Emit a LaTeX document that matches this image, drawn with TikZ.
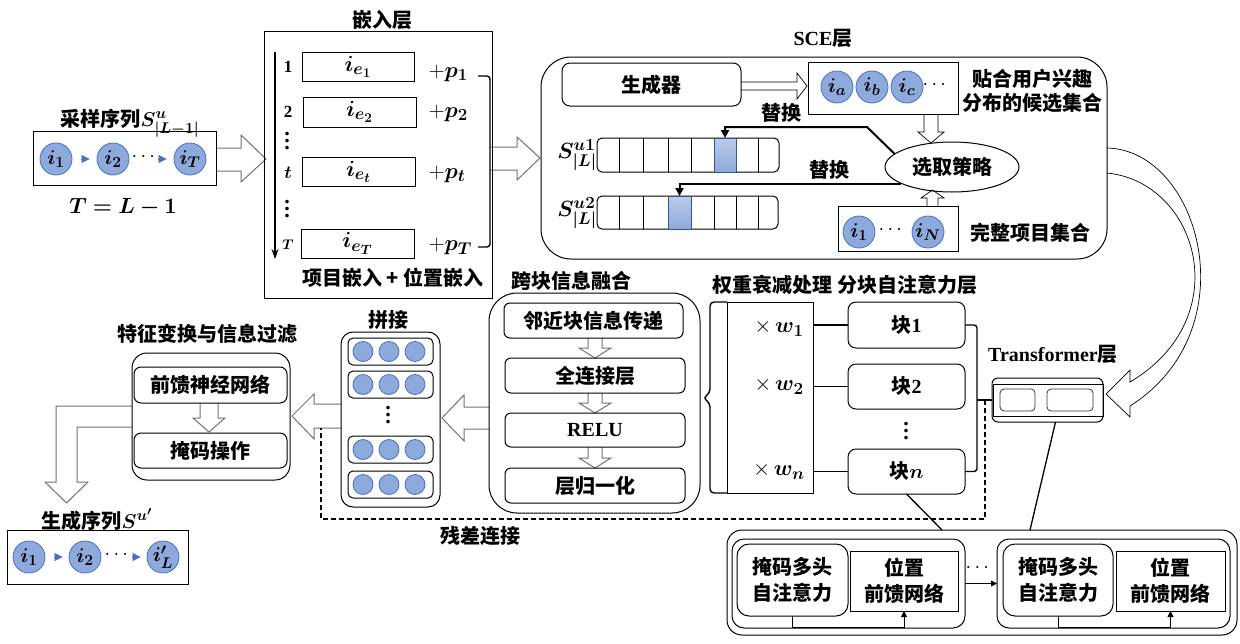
\RequirePackage{fix-cm}
\documentclass[tikz,border=0pt]{standalone}
\usepackage{fontspec}
\usepackage{amsmath}
\usepackage{bm}
\setmainfont{Liberation Serif}
\newfontfamily\cjkfont{Noto Sans CJK SC}
\usetikzlibrary{arrows.meta,calc,shapes.geometric}
\DeclareMathSizes{14}{14}{11}{9}
\DeclareMathSizes{18}{18}{14}{11}
\DeclareMathSizes{20}{20}{15.5}{12.5}
\DeclareMathSizes{22}{22}{17}{13.5}

\definecolor{itemfill}{RGB}{142,169,219}
\definecolor{itemline}{RGB}{68,114,196}
\definecolor{hltop}{RGB}{186,204,235}
\definecolor{hlline}{RGB}{47,85,151}
\definecolor{tfnavy}{RGB}{32,56,100}
\definecolor{arrowgray}{RGB}{115,115,115}

% box given by its two corners: [style]{name}{x1}{y1}{x2}{y2}{text}
\newcommand\bx[7][]{\node[base,#1,minimum width={#5-#3},minimum height={#6-#4}] (#2) at ({(#3+#5)/2},{(#4+#6)/2}) {#7};}
% hollow downward block arrow: {x}{ytop}{ytip}{body half}{head half}{head length}
\newcommand\hdown[6]{\draw[hollow] ({#1-#4},#2) -- ({#1-#4},{#3-#6}) -- ({#1-#5},{#3-#6}) -- (#1,#3) -- ({#1+#5},{#3-#6}) -- ({#1+#4},{#3-#6}) -- ({#1+#4},#2);}
% tall bold vertical ellipsis
\newcommand\tallvdots{{\rmfamily\bfseries\fontsize{22}{22}\selectfont\vbox{\baselineskip7pt\lineskiplimit-20pt\hbox{.}\hbox{.}\hbox{.}}}}

\tikzset{
  base/.style={inner sep=0pt,outer sep=0pt},
  plain/.style={base,draw},
  rbox/.style={base,draw,rounded corners=#1},
  item/.style={circle,draw=itemline,fill=itemfill,minimum size=32pt,inner sep=0pt,line width=0.8pt},
  dot/.style={circle,draw=itemline,fill=itemfill,minimum size=20pt,inner sep=0pt,line width=0.8pt},
  seqarr/.style={draw=itemline,fill=itemline,line width=0.6pt,-{Triangle[length=8pt,width=8pt]}},
  hollow/.style={draw=arrowgray,fill=white,line width=1pt},
  thinhollow/.style={draw=black,fill=white,line width=0.7pt},
  repl/.style={line width=2pt,-{Triangle[length=8pt,width=8pt]}},
  hl/.style={base,draw=hlline,top color=hltop,bottom color=itemfill},
  mathbig/.style={font=\fontsize{22}{26}\selectfont},
  vdotsn/.style={inner sep=0pt},
  resid/.style={line width=0.8pt,-{Triangle[length=6pt,width=6pt]}},
}

\begin{document}
\begin{tikzpicture}[x=1pt,y=-1pt,line width=1pt,font=\cjkfont\bfseries\fontsize{20}{24}\selectfont]
\fill[white] (0,0) rectangle (1240,643);
\useasboundingbox (0,0) rectangle (1240,643);

% ---------- block arrows (drawn first, boxes sit on top) ----------
\draw[hollow] (216,148) -- (241,148) -- (241,135) -- (266,159) -- (241,182) -- (241,171) -- (216,171);
\draw[hollow] (490,147) -- (517,147) -- (517,137) -- (540,158) -- (517,180) -- (517,170) -- (490,170);
\draw[thinhollow] (741,82) -- (797,82) -- (797,73) -- (807,86) -- (797,99) -- (797,90) -- (741,90);
\draw[thinhollow] (924,114) -- (924,132) -- (918,132) -- (931,143) -- (944,132) -- (938,132) -- (938,114);
\draw[thinhollow] (927,206) -- (927,198) -- (921,198) -- (932.5,190) -- (944,198) -- (938,198) -- (938,206);
\draw[thinhollow] (1107,148) .. controls (1200,150) and (1250,330) .. (1130,406) -- (1130,417) -- (1106,394) -- (1130,370) -- (1130,382) .. controls (1238,318) and (1198,182) .. (1107,173);
\draw[hollow] (489,407) -- (464,407) -- (464,395) -- (442,418) -- (464,441) -- (464,429) -- (489,429);
\draw[hollow] (341,404) -- (314,404) -- (314,394) -- (292,416) -- (314,439) -- (314,428) -- (341,428);
\draw[hollow] (132,406) -- (56,406) -- (56,482) -- (45,482) -- (66.5,503) -- (88,482) -- (77,482) -- (77,427) -- (132,427);
\hdown{595}{338}{358}{7}{16}{10}
\hdown{595}{393}{413}{7}{16}{10}
\hdown{595}{447}{468}{7}{16}{10}
\hdown{209}{403}{432}{9}{16}{14}

% ---------- sampled sequence ----------
\node[anchor=base] (seqtitle) at (130,126) {采样序列$\bm{S^{u}_{|L-1|}}$};
\bx[plain]{seq}{33}{131}{216}{185}{}
\node[item] (s1) at (56,159) {$\bm{i_1}$};
\node[item] (s2) at (113,159) {$\bm{i_2}$};
\node[item] (sT) at (190,159) {$\bm{i_T}$};
\draw[seqarr,shorten <=9pt,shorten >=7pt] (s1) -- (s2);
\draw[seqarr,shorten <=29pt,shorten >=7pt] (s2) -- (sT);
\node (sdots) at (145,157) {$\cdots$};
\node[mathbig] (seqlen) at (123,207) {$\bm{T=L-1}$};

% ---------- embedding layer ----------
\node (embtitle) at (382,20) {嵌入层};
\bx[plain]{emb}{264}{31}{492}{298}{}
\coordinate (axtop) at (275,52);
\coordinate (axbot) at (275,259);
\draw[line width=1.3pt,-{Stealth[length=10pt,width=7pt]}] (axtop) -- (axbot);
\bx[plain,mathbig]{e1}{302}{52}{414}{81}{$\bm{i_{e_1}}$}
\bx[plain,mathbig]{e2}{303}{97}{416}{127}{$\bm{i_{e_2}}$}
\bx[plain,mathbig]{et}{302}{157}{415}{186}{$\bm{i_{e_t}}$}
\bx[plain,mathbig]{eT}{301}{229}{414}{258}{$\bm{i_{e_T}}$}
\node[font=\bfseries\fontsize{17}{20}\selectfont] (n1) at (288,67) {1};
\node[font=\bfseries\fontsize{17}{20}\selectfont] (n2) at (288,112) {2};
\node[vdotsn] (vd1) at (287,141) {\tallvdots};
\node[font=\fontsize{18}{20}\selectfont] (nt) at (288,173) {$\bm{t}$};
\node[vdotsn] (vd2) at (287,209) {\tallvdots};
\node[font=\fontsize{14}{16}\selectfont] (nT) at (288,245) {$\bm{T}$};
\node[mathbig,anchor=base west] (p1) at (425,77) {$+\bm{p_1}$};
\node[mathbig,anchor=base west] (p2) at (425,117) {$+\bm{p_2}$};
\node[mathbig,anchor=base west] (pt) at (425,178) {$+\bm{p_t}$};
\node[mathbig,anchor=base west] (pT) at (425,250) {$+\bm{p_T}$};
\coordinate (brA) at (478,76);
\coordinate (brB) at (478,247);
\draw[line width=1.4pt,rounded corners=3pt] (brA) -- (490,76) -- (490,247) -- (brB);
\node (empos) at (393,278) {项目嵌入 + 位置嵌入};

% ---------- SCE layer ----------
\node (scetitle) at (823,38) {\textrm{SCE}层};
\bx[rbox=30]{sce}{541}{57}{1107}{259}{}
\bx[rbox=8]{gen}{562}{63}{741}{106}{生成器}
\bx[plain]{cand}{808}{62}{958}{114}{}
\node[item] (ca) at (837,87) {$\bm{i_a}$};
\node[item] (cb) at (872,87) {$\bm{i_b}$};
\node[item] (cc) at (907,87) {$\bm{i_c}$};
\node (cdots) at (936,85) {$\cdots$};
\node[align=center] (candtxt) at (1032,91) {贴合用户兴趣\\分布的候选集合};
\node[draw,ellipse,minimum width=134pt,minimum height=50pt,inner sep=0pt] (sel) at (952,167) {选取策略};
\bx[plain]{full}{838}{206}{958}{251}{}
\node[item] (f1) at (859,232) {$\bm{i_1}$};
\node[item] (fN) at (928,232) {$\bm{i_N}$};
\node (fdots) at (892,230) {$\cdots$};
\node (fulltxt) at (1030,233) {完整项目集合};

\node[mathbig] (sa) at (577,155) {$\bm{S^{u1}_{|L|}}$};
\node[mathbig] (sb) at (577,213) {$\bm{S^{u2}_{|L|}}$};
\bx[rbox=5]{seqa}{597}{138}{779}{172}{}
\bx[rbox=5]{seqb}{597}{196}{778}{229}{}
\foreach \cx in {619,643,668,691,714,736,758} {
  \draw (\cx,138) -- (\cx,172);
  \draw (\cx,196) -- (\cx,229);
}
\bx[hl]{hla}{714}{138}{736}{172}{}
\bx[hl]{hlb}{668}{196}{691}{229}{}
\coordinate (bendA) at (867,127);
\draw[repl] (sel.167) -- (bendA) -- (hla.north |- bendA) -- (hla.north);
\draw[repl] (sel.198) -- (hlb.north |- sel.198) -- (hlb.north);
\node (rep1) at (781,113) {替换};
\node (rep2) at (829,170) {替换};

% ---------- Transformer layer ----------
\node (tftitle) at (1053,354) {\textrm{Transformer}层};
\bx[rbox=6]{tf}{992}{378}{1103}{422}{}
\bx[plain]{tfin}{993}{384}{1103}{416}{}
\bx[base,draw=tfnavy,rounded corners=4,line width=0.8pt]{tfa}{1000}{389}{1035}{411}{}
\bx[base,draw=tfnavy,rounded corners=4,line width=0.8pt]{tfb}{1047}{389}{1093}{411}{}

% ---------- weighting and block attention ----------
\node (wtitle) at (845,285) {权重衰减处理 分块自注意力层};
\bx[plain]{wt}{727}{302}{813}{493}{}
\bx[rbox=8]{b1}{848}{302}{965}{348}{块\textrm{1}}
\bx[rbox=8]{b2}{848}{364}{965}{409}{块\textrm{2}}
\bx[rbox=8]{bn}{848}{449}{965}{494}{块$\bm{n}$}
\node[vdotsn] (bdots) at (906,431) {\tallvdots};
\node[mathbig] (w1) at (779,328) {$\times\,\bm{w_1}$};
\node[mathbig] (w2) at (779,386) {$\times\,\bm{w_2}$};
\node[mathbig] (wn) at (779,471) {$\times\,\bm{w_n}$};
\draw[line width=1.3pt] (wt.east |- b1.west) -- (b1.west);
\draw[line width=1.3pt] (wt.east |- b2.west) -- (b2.west);
\draw[line width=1.3pt] (wt.east |- bn.west) -- (bn.west);
\draw[line width=1.4pt,rounded corners=4pt] (wt.north west) -- (710,302) -- (710,393) -- (703,398) -- (710,403) -- (710,493) -- (wt.south west);
\coordinate (brk) at (977,400);
\draw[line width=1.4pt,rounded corners=3pt] (b1.east) -- (977,325) -- (977,471.5) -- (bn.east);
\draw[line width=1.4pt] (brk) -- (tf.west);

% residual connection
\coordinate (resA) at (985,400);
\coordinate (resB) at (321,428);
\draw[line width=1.6pt,dash pattern=on 5pt off 3pt] (resA) |- (321,519) -- (resB);
\node (restxt) at (480,536) {残差连接};

% ---------- cross-block fusion ----------
\node (cbtitle) at (571,281) {跨块信息融合};
\bx[rbox=28]{cbx}{489}{293}{700}{513}{}
\bx[rbox=6]{cb1}{504}{303}{683}{338}{邻近块信息传递}
\bx[rbox=6]{cb2}{505}{358}{685}{393}{全连接层}
\bx[rbox=6]{cb3}{505}{413}{685}{447}{\textrm{RELU}}
\bx[rbox=6]{cb4}{505}{468}{685}{503}{层归一化}

% ---------- concatenation ----------
\node (cattitle) at (388,320) {拼接};
\bx[rbox=12]{cat}{341}{332}{440}{507}{}
\foreach \r/\ya/\yb in {ra/338/365, rb/371/398, rc/436/463, rd/471/498} {
  \bx[rbox=5]{\r}{348}{\ya}{433}{\yb}{}
  \foreach \cx [count=\k] in {363,389,415}
    \node[dot] (\r\k) at (\cx,{(\ya+\yb)/2}) {};
}
\node[vdotsn] (catdots) at (388,415) {\tallvdots};

% ---------- feature transform ----------
\node (ffntitle) at (207,334) {特征变换与信息过滤};
\bx[rbox=15]{ffnbox}{132}{353}{290}{480}{}
\bx[rbox=7]{ffn}{134}{367}{287}{403}{前馈神经网络}
\bx[rbox=7]{mask}{134}{433}{287}{468}{掩码操作}

% ---------- generated sequence ----------
\node[anchor=base] (outtitle) at (97,528) {生成序列$\bm{S^{u'}}$};
\bx[plain]{out}{7}{530}{188}{584}{}
\node[item] (o1) at (29,557) {$\bm{i_1}$};
\node[item] (o2) at (85,557) {$\bm{i_2}$};
\node[item] (oL) at (163,557) {$\bm{i'_L}$};
\draw[seqarr,shorten <=9pt,shorten >=6pt] (o1) -- (o2);
\draw[seqarr,shorten <=31pt,shorten >=6pt] (o2) -- (oL);
\node (odots) at (118,555) {$\cdots$};

% ---------- transformer block detail ----------
\bx[rbox=15]{enc}{727}{530}{1237}{635}{}
\bx[rbox=12]{u1}{732}{539}{965}{628}{}
\bx[rbox=12,align=center]{m1}{737}{544}{848}{616}{掩码多头\\[2pt]自注意力}
\bx[plain,align=center]{fa}{850}{551}{958}{611}{位置\\[2pt]前馈网络}
\draw[resid] (m1.south) -- ++(0,11) -| (fa.south);
\bx[rbox=12]{u2}{997}{539}{1230}{628}{}
\bx[rbox=12,align=center]{m2}{1003}{544}{1113}{616}{掩码多头\\[2pt]自注意力}
\bx[plain,align=center]{fb}{1116}{551}{1225}{611}{位置\\[2pt]前馈网络}
\draw[resid] (m2.south) -- ++(0,11) -| (fb.south);
\node (encdots) at (979,568) {$\cdots$};
\draw[resid] (u1.east) -- (u2.west);
\coordinate (encA) at (942,530);
\coordinate (encB) at (1030,530);
\draw[line width=1.3pt] (bn.south) -- (encA);
\draw[line width=1.3pt] ($(tf.south)+(8,0)$) -- (encB);
\end{tikzpicture}
\end{document}
